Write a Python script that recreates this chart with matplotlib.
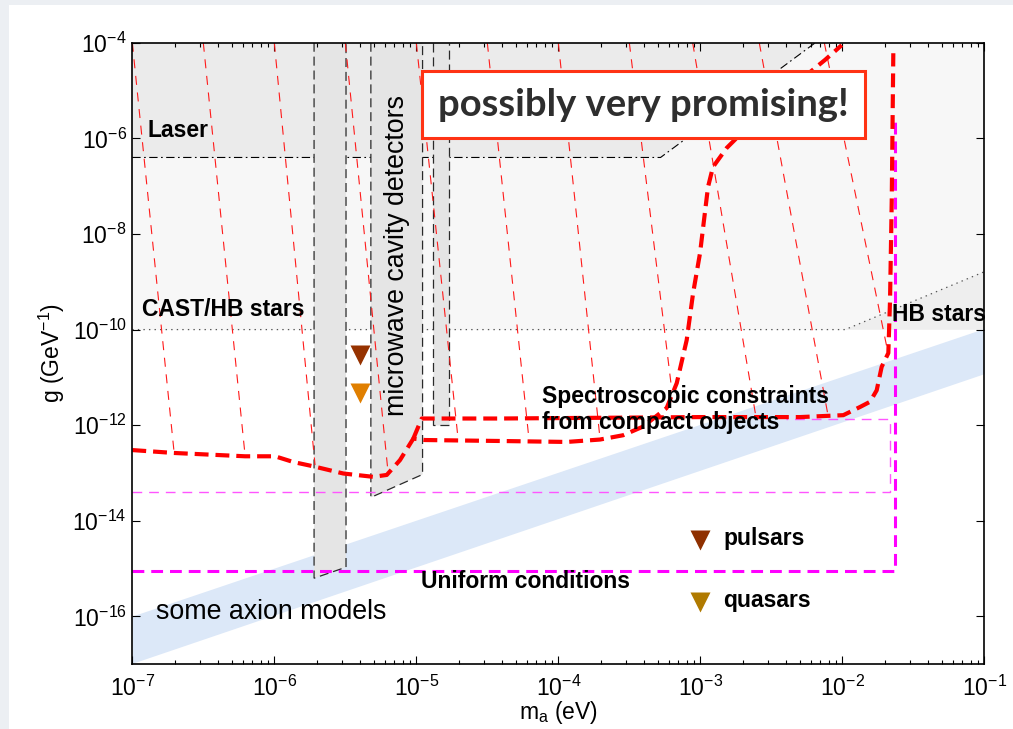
import numpy as np
import matplotlib
matplotlib.use('Agg')
import matplotlib.pyplot as plt
from matplotlib.patches import Rectangle, Polygon
from matplotlib.ticker import FixedLocator, LogLocator, NullLocator, LogFormatterMathtext

plt.rcParams['font.family'] = ['Liberation Sans', 'DejaVu Sans']
plt.rcParams['mathtext.fontset'] = 'custom'
plt.rcParams['mathtext.rm'] = 'Liberation Sans'
plt.rcParams['mathtext.it'] = 'Liberation Sans:italic'
plt.rcParams['mathtext.bf'] = 'Liberation Sans:bold'
plt.rcParams['lines.scale_dashes'] = False

# --- werte, alle als log10 (m in eV, g in GeV^-1) ---
# grau: laser + CAST/HB
laser_lm = [-7.0, -7.0, -3.28, -2.19]
laser_lg = [-4.0, -6.40, -6.40, -4.0]
cast_lg = -10.0
hb_lm = [-7.0, -1.98, -1.0]
hb_lg = [-10.0, -10.0, -8.79]

# microwave cavity bänder
cav_left = [-5.72, -5.32, -4.885]
cav_right = [-5.495, -4.956, -4.768]
cav_bot_left = [-15.20, -13.51, -12.0]
cav_bot_right = [-14.97, -13.03, -12.0]

# axion band
axion_lm = [-7.0, -1.0]
axion_lo = [-16.98, -10.92]
axion_hi = [-15.99, -9.975]

# spektroskopie, dicke rote kurve (unterer ast)
spec_lm = [-7.0, -6.71, -6.206, -5.995, -5.866, -5.725, -5.514, -5.303, -5.208,
           -5.115, -5.021, -4.939, -4.411, -3.941, -3.707, -3.544, -3.404, -3.237,
           -3.166, -3.096, -3.051, -3.002, -2.946, -2.911, -2.814, -2.51, -2.122, -2.004]
spec_lg = [-12.52, -12.58, -12.65, -12.65, -12.77, -12.86, -13.01, -13.08, -13.04,
           -12.73, -12.28, -12.31, -12.33, -12.35, -12.30, -12.21, -12.03, -11.64,
           -11.12, -10.22, -9.24, -8.40, -7.02, -6.60, -6.20, -5.30, -4.36, -4.05]
# oberer ast
spec2_lm = [-5.021, -4.962, -4.411, -3.002, -2.298, -1.993, -1.876, -1.805, -1.758,
            -1.723, -1.676, -1.664, -1.652, -1.641]
spec2_lg = [-12.28, -11.86, -11.86, -11.83, -11.83, -11.79, -11.62, -11.51, -11.27,
            -10.78, -10.49, -9.38, -7.29, -4.22]

# dünne rote linien (oben -> endpunkt auf der kurve)
thin_top_lm = [-7.0, -6.5, -6.0, -5.5, -5.0, -4.5, -4.0, -3.5, -3.054, -2.585, -2.127]
thin_bot_lm = [-6.706, -6.206, -5.713, -5.197, -4.705, -4.206, -3.706, -3.199, -2.608, -2.101, -1.687]
thin_bot_lg = [-12.556, -12.626, -12.835, -13.044, -12.31, -12.31, -12.29, -11.31, -11.83, -11.79, -10.36]

# magenta
uni_lm = [-7.0, -1.629, -1.629]
uni_lg = [-15.05, -15.05, -5.55]
mag2_lm = [-7.0, -1.665, -1.665, -2.40]
mag2_lg = [-13.39, -13.39, -11.86, -11.86]

# marker
lab_lm = [-5.40, -5.40]
lab_lg = [-10.53, -11.33]
lab_col = ['#963200', '#e07f00']
astro_lm = [-3.0, -3.0]
astro_lg = [-14.40, -15.69]
astro_col = ['#8f3000', '#b07a00']
astro_names = ['pulsars', 'quasars']

xticks = [1e-7, 1e-6, 1e-5, 1e-4, 1e-3, 1e-2, 1e-1]
yticks = [1e-16, 1e-14, 1e-12, 1e-10, 1e-8, 1e-6, 1e-4]


def p(lm, lg):
    return 10.0 ** np.asarray(lm), 10.0 ** np.asarray(lg)


fig = plt.figure(figsize=(10.13, 7.29), dpi=100, facecolor='#eceff3')
fig.add_artist(Rectangle((9 / 1013, 0), 1, 724 / 729, transform=fig.transFigure,
                         facecolor='white', edgecolor='none', zorder=-10))
ax = fig.add_axes([0.1306, 0.0888, 0.8411, 0.8526])
ax.set_xscale('log')
ax.set_yscale('log')

# hintergrund-flächen
ax.fill_between(*p([-7, -1], [-4, -4]), 10 ** cast_lg, color='#f7f7f7', lw=0, zorder=0.5)
ax.add_patch(Polygon(np.column_stack(p(laser_lm, laser_lg)), closed=True,
                     facecolor='#ebebeb', edgecolor='none', zorder=0.6))
ax.add_patch(Polygon(np.column_stack(p([hb_lm[1], hb_lm[2], hb_lm[2]], [hb_lg[1], hb_lg[2], hb_lg[1]])),
                     closed=True, facecolor='#eeeeee', edgecolor='none', zorder=0.6))
ax.plot(*p(laser_lm[1:], laser_lg[1:]), color='k', lw=0.8, dashes=(6, 2.5, 1.2, 2.5), zorder=1)
ax.plot(*p(hb_lm, hb_lg), color='#555555', lw=0.9, dashes=(1, 3), zorder=1)

# axion band
ax.fill_between(*p(axion_lm, axion_lo), 10.0 ** np.array(axion_hi),
                color='#dce8f8', lw=0, zorder=0.7)

# cavity bänder
for l, r, bl, br in zip(cav_left, cav_right, cav_bot_left, cav_bot_right):
    xs, ys = p([l, l, r, r], [-4, bl, br, -4])
    ax.add_patch(Polygon(np.column_stack([xs, ys]), closed=False,
                         facecolor='#e5e5e5', edgecolor='#2a2a2a', lw=0.9,
                         linestyle=(0, (6.5, 3.5)), zorder=1.5))

# dünne rote linien
for t, bx, by in zip(thin_top_lm, thin_bot_lm, thin_bot_lg):
    ax.plot(*p([t, bx], [-4, by]), color='#ff1a1a', lw=0.8, dashes=(6.5, 5.5), zorder=2)

# magenta
ax.plot(*p(mag2_lm, mag2_lg), color='#ff55ff', lw=1.0, dashes=(7, 5), zorder=2.5)
ax.plot(*p(uni_lm, uni_lg), color='#ff00ff', lw=2.2, dashes=(8.5, 5), zorder=2.6)

# dicke rote kurven
ax.plot(*p(spec_lm, spec_lg), color='#ff0000', lw=3.0, dashes=(10, 5), zorder=3)
ax.plot(*p(spec2_lm, spec2_lg), color='#ff0000', lw=3.0, dashes=(10, 5), zorder=3)

# marker
for lm, lg, c in zip(lab_lm, lab_lg, lab_col):
    ax.plot(10 ** lm, 10 ** lg, 'v', color=c, ms=14, mec='none', zorder=4)
for lm, lg, c, name in zip(astro_lm, astro_lg, astro_col, astro_names):
    ax.plot(10 ** lm, 10 ** lg, 'v', color=c, ms=14, mec='none', zorder=4)
    ax.text(10 ** (lm + 0.162), 10 ** (lg - 0.11), name, fontsize=16.5,
            fontweight='bold', ha='left', va='baseline', zorder=6)

# texte
bold = dict(fontsize=16.5, fontweight='bold', ha='left', va='baseline', zorder=6)
ax.text(10 ** -6.896, 10 ** -5.967, 'Laser', **bold)
ax.text(10 ** -6.934, 10 ** -9.718, 'CAST/HB stars', **bold)
ax.text(10 ** -1.652, 10 ** -9.822, 'HB stars', **bold)
ax.text(10 ** -4.117, 10 ** -12.07, 'Spectroscopic constraints\nfrom compact objects',
        linespacing=1.12, **bold)
ax.text(10 ** -4.967, 10 ** -15.414, 'Uniform conditions', **bold)
ax.text(10 ** -6.833, 10 ** -16.063, 'some axion models', fontsize=19.3,
        ha='left', va='baseline', zorder=6)
ax.text(10 ** -5.135, 10 ** -8.44, 'microwave cavity detectors', fontsize=19.3,
        rotation=90, ha='center', va='center', zorder=6)

ax.text(0.600, 0.9006, 'possibly very promising!', transform=ax.transAxes,
        family=['Lato', 'DejaVu Sans'], fontweight='bold', fontsize=27.5, color='#2e2e2e',
        ha='center', va='center', zorder=10,
        bbox=dict(boxstyle='square,pad=0.42', facecolor='white', edgecolor='#ff3314', lw=2.2))

ax.set_xlim(1e-7, 1e-1)
ax.set_ylim(1e-17, 1e-4)
ax.xaxis.set_major_locator(FixedLocator(xticks))
ax.xaxis.set_minor_locator(LogLocator(base=10, subs=np.arange(2, 10), numticks=20))
ax.yaxis.set_major_locator(FixedLocator(yticks))
ax.yaxis.set_minor_locator(NullLocator())
ax.xaxis.set_major_formatter(LogFormatterMathtext())
ax.yaxis.set_major_formatter(LogFormatterMathtext())
ax.tick_params(which='both', direction='in', top=True, right=True, width=0.8, labelsize=16.5)
ax.tick_params(which='major', length=6)
ax.tick_params(which='minor', length=3)
ax.tick_params(axis='x', which='major', pad=8)
ax.tick_params(axis='y', which='major', pad=4)
for s in ax.spines.values():
    s.set_linewidth(1.2)
    s.set_zorder(8)

ax.set_xlabel('m$_\\mathregular{a}$ (eV)', fontsize=16.5, labelpad=-1)
ax.set_ylabel('g (GeV$^{\\mathregular{-1}}$)', fontsize=16.5, labelpad=4)

plt.savefig('out.png', dpi=100, facecolor=fig.get_facecolor())
